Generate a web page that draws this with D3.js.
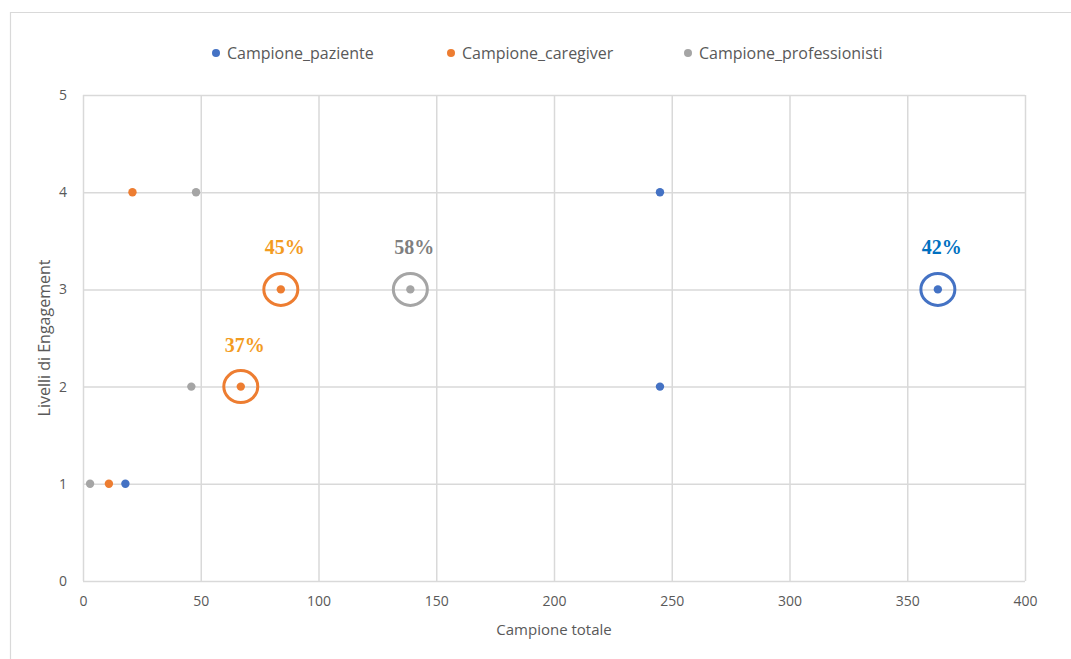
<!DOCTYPE html>
<html>
<head>
<meta charset="utf-8">
<script src="https://cdn.jsdelivr.net/npm/d3@7"></script>
<style>
  html, body { margin: 0; padding: 0; background: #ffffff; }
  svg { display: block; }
</style>
</head>
<body>
<svg id="chart" width="1071" height="659"></svg>
<script>
// ---- Data ----
const seriesNames = ["Campione_paziente", "Campione_caregiver", "Campione_professionisti"];
const seriesColors = ["#4472C4", "#ED7D31", "#A5A5A5"];

const pazienteX = [18, 245, 245, 363];
const pazienteY = [1, 4, 2, 3];
const caregiverX = [11, 21, 67, 84];
const caregiverY = [1, 4, 2, 3];
const professionistiX = [3, 48, 46, 139];
const professionistiY = [1, 4, 2, 3];

// highlighted points with percentage annotations
const annLabels = ["45%", "37%", "58%", "42%"];
const annX = [84, 67, 139, 363];
const annY = [3, 2, 3, 3];
const annSeries = [1, 1, 2, 0];
const annLabelColors = ["#F39C1F", "#F39C1F", "#7F7F7F", "#0070C0"];

const xTicks = [0, 50, 100, 150, 200, 250, 300, 350, 400];
const yTicks = [0, 1, 2, 3, 4, 5];
const xTitle = "Campione totale";
const yTitle = "Livelli di Engagement";

(function () {
// ---- Layout ----
const svg = d3.select("#chart");
const pLeft = 83, pRight = 1025, pTop = 95, pBottom = 581;
const x = d3.scaleLinear().domain([0, 400]).range([pLeft, pRight]);
const y = d3.scaleLinear().domain([0, 5]).range([pBottom, pTop]);
const textColor = "#595959";
const gridColor = "#D9D9D9";
const font = "'Open Sans', sans-serif";

// chart border (top and left visible)
svg.append("path")
  .attr("d", "M10.5,659 L10.5,12.5 L1071,12.5")
  .attr("fill", "none").attr("stroke", "#D9D9D9").attr("stroke-width", 1.2);

// grid
const xAxis = d3.axisBottom(x).tickValues(xTicks).tickFormat(d3.format("d"))
  .tickSize(-(pBottom - pTop)).tickPadding(15);
const gx = svg.append("g").attr("transform", `translate(0,${pBottom})`).call(xAxis);
gx.select(".domain").remove();
gx.selectAll(".tick line").attr("stroke", gridColor).attr("stroke-width", 1.5);
gx.selectAll(".tick text").attr("fill", textColor).attr("font-family", font).attr("font-size", 14);

const yAxis = d3.axisLeft(y).tickValues(yTicks).tickFormat(d3.format("d"))
  .tickSize(-(pRight - pLeft)).tickPadding(16);
const gy = svg.append("g").attr("transform", `translate(${pLeft},0)`).call(yAxis);
gy.select(".domain").remove();
gy.selectAll(".tick line").attr("stroke", gridColor).attr("stroke-width", 1.5);
gy.selectAll(".tick text").attr("fill", textColor).attr("font-family", font).attr("font-size", 14);

// axis titles
svg.append("text")
  .attr("x", (pLeft + pRight) / 2).attr("y", 635)
  .attr("text-anchor", "middle")
  .attr("fill", textColor).attr("font-family", font).attr("font-size", 15)
  .text(xTitle);
svg.append("text")
  .attr("transform", `translate(50,${(pTop + pBottom) / 2}) rotate(-90)`)
  .attr("text-anchor", "middle")
  .attr("fill", textColor).attr("font-family", font).attr("font-size", 16)
  .text(yTitle);

// points
const seriesData = [
  pazienteX.map((v, i) => ({ x: v, y: pazienteY[i] })),
  caregiverX.map((v, i) => ({ x: v, y: caregiverY[i] })),
  professionistiX.map((v, i) => ({ x: v, y: professionistiY[i] }))
];
seriesData.forEach((pts, s) => {
  svg.append("g").selectAll("circle").data(pts).join("circle")
    .attr("cx", d => x(d.x)).attr("cy", d => y(d.y)).attr("r", 4.2)
    .attr("fill", seriesColors[s]);
});

// annotations: ellipses + labels
const ann = annLabels.map((l, i) => ({ label: l, x: annX[i], y: annY[i], s: annSeries[i], c: annLabelColors[i] }));
const ga = svg.append("g");
ga.selectAll("ellipse").data(ann).join("ellipse")
  .attr("cx", d => x(d.x)).attr("cy", d => y(d.y))
  .attr("rx", 17).attr("ry", 16)
  .attr("fill", "none").attr("stroke", d => seriesColors[d.s]).attr("stroke-width", 3);
ga.selectAll("text").data(ann).join("text")
  .attr("x", d => x(d.x) + 4).attr("y", d => y(d.y) - 35)
  .attr("text-anchor", "middle")
  .attr("font-family", "'Liberation Serif', 'Times New Roman', serif")
  .attr("font-weight", "bold").attr("font-size", 20)
  .attr("fill", d => d.c)
  .text(d => d.label);

// legend
const legendX = [216, 451, 688];
const lg = svg.append("g");
seriesNames.forEach((n, i) => {
  lg.append("circle").attr("cx", legendX[i]).attr("cy", 53).attr("r", 4).attr("fill", seriesColors[i]);
  lg.append("text").attr("x", legendX[i] + 11).attr("y", 58.5)
    .attr("fill", textColor).attr("font-family", font).attr("font-size", 16)
    .text(n);
});
})();
</script>
</body>
</html>
